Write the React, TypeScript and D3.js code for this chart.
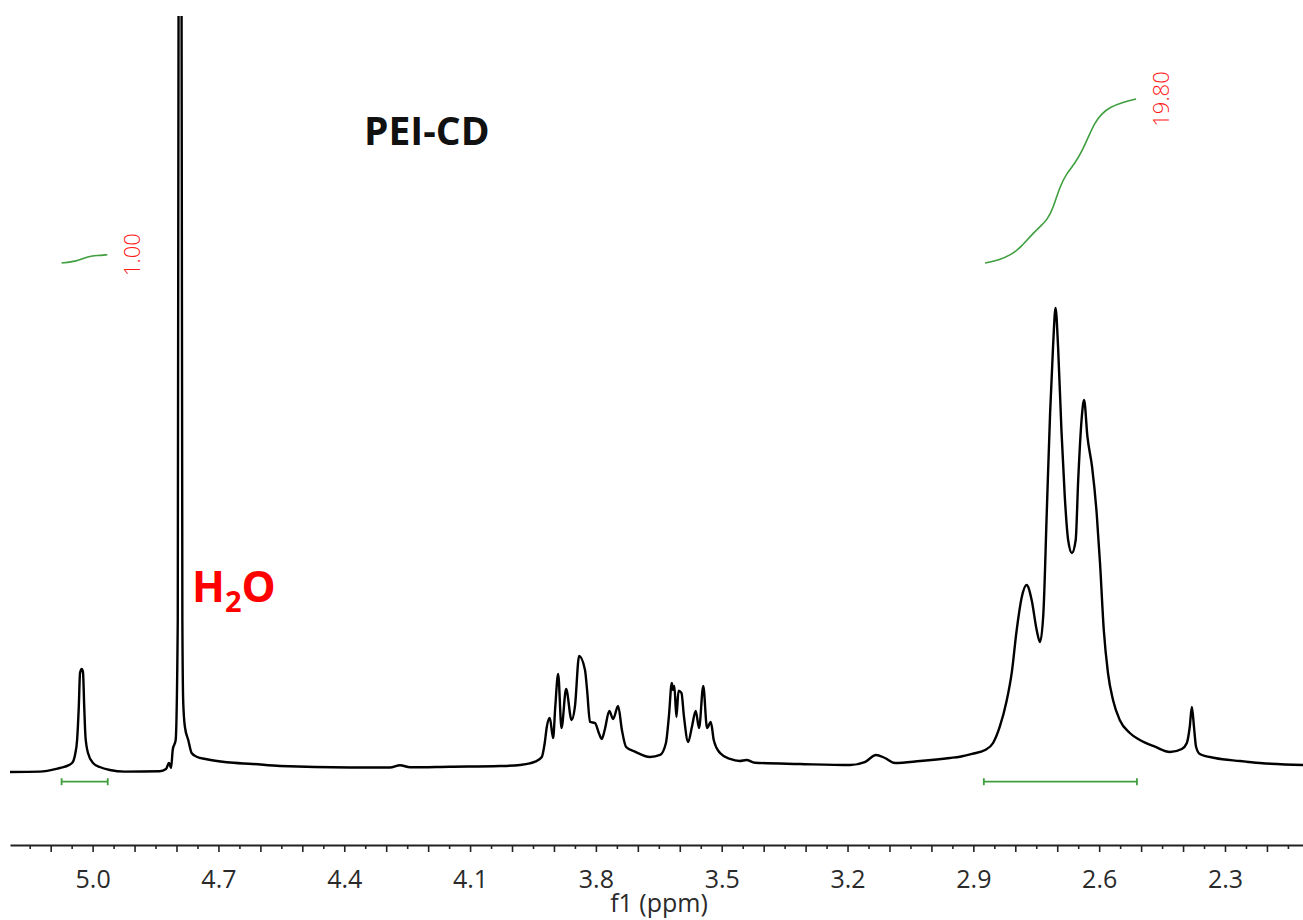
import React, { useRef, useEffect } from "react";
import * as d3 from "d3";

const W = 1303;
const H = 920;

// 1H trace: chemical shift (ppm) -> intensity (arb. units)
const shifts = [
  5.197, 5.126, 5.078, 5.066, 5.049, 5.042, 5.037, 5.033, 5.03, 5.026, 5.023, 5.02, 5.017, 5.011,
  4.999, 4.983, 4.959, 4.923, 4.84, 4.825, 4.818, 4.813, 4.809, 4.802, 4.797, 4.795, 4.791, 4.788,
  4.786, 4.784, 4.78, 4.772, 4.764, 4.752, 4.728, 4.68, 4.618, 4.553, 4.387, 4.291, 4.267, 4.243,
  4.148, 4.029, 3.981, 3.945, 3.929, 3.922, 3.917, 3.91, 3.902, 3.897, 3.89, 3.882, 3.871, 3.858,
  3.85, 3.84, 3.826, 3.821, 3.814, 3.802, 3.793, 3.786, 3.779, 3.768, 3.759, 3.747, 3.738, 3.728,
  3.707, 3.671, 3.647, 3.633, 3.626, 3.619, 3.616, 3.613, 3.608, 3.603, 3.596, 3.59, 3.58, 3.571,
  3.562, 3.554, 3.544, 3.535, 3.526, 3.519, 3.504, 3.48, 3.457, 3.441, 3.421, 3.314, 3.194, 3.159,
  3.132, 3.111, 3.087, 3.027, 2.956, 2.932, 2.903, 2.872, 2.853, 2.837, 2.821, 2.808, 2.797, 2.785,
  2.773, 2.761, 2.749, 2.741, 2.733, 2.725, 2.717, 2.71, 2.704, 2.698, 2.69, 2.682, 2.674, 2.665,
  2.656, 2.65, 2.642, 2.636, 2.628, 2.617, 2.606, 2.598, 2.589, 2.579, 2.567, 2.551, 2.527, 2.503,
  2.467, 2.431, 2.403, 2.391, 2.384, 2.379, 2.374, 2.369, 2.36, 2.324, 2.264, 2.217, 2.114,
];
const intensities = [
  0, 0.05, 0.53, 0.7, 1.19, 2.25, 4.23, 8.6, 13.08, 13.61, 13.21, 8.6, 4.62, 2.51,
  1.19, 0.66, 0.26, 0.05, 0.1, 0.4, 1.19, 0.53, 2.91, 4.23, 20, 105, 140, 105,
  20, 9.29, 5.98, 4.23, 2.51, 2.02, 1.68, 1.28, 1.06, 0.79, 0.6, 0.6, 0.9, 0.62,
  0.7, 0.79, 0.92, 1.36, 1.98, 3.83, 5.98, 7.13, 4.49, 8.5, 12.95, 5.81, 10.96, 6.87,
  8.63, 15.32, 13.47, 10.83, 6.61, 6.47, 5.15, 4.36, 5.55, 8.06, 7.0, 8.72, 5.55, 3.3,
  2.68, 1.98, 2.25, 3.83, 7.31, 11.76, 10.83, 11.36, 7.27, 10.74, 10.44, 7.31, 3.96, 5.98,
  8.06, 5.81, 11.36, 5.81, 6.61, 4.23, 2.51, 1.72, 1.45, 1.59, 1.23, 1.06, 0.92, 1.3,
  2.25, 1.85, 1.19, 1.45, 1.85, 2.02, 2.4, 2.91, 3.83, 5.98, 9.3, 13.3, 18.6, 23.0,
  24.7, 22.72, 18.76, 17.17, 21.0, 34.21, 47.42, 56.18, 61.29, 56.18, 45.18, 36.37, 30.65, 28.93,
  30.65, 38.57, 46.5, 49.14, 44.29, 40.33, 34.21, 27.61, 18.76, 13.08, 9.51, 6.87, 5.15, 4.23,
  3.34, 2.64, 3.04, 3.83, 5.98, 8.59, 5.98, 3.34, 2.38, 1.85, 1.45, 1.19, 0.92,
];

const tickLabels = [5.0, 4.7, 4.4, 4.1, 3.8, 3.5, 3.2, 2.9, 2.6, 2.3];

// running integrals (green) and their ranges
const integral1Ppm = [5.074, 5.038, 5.024, 5.01, 4.99, 4.965];
const integral1Val = [0, 0.22, 0.5, 0.78, 0.9, 1.0];
const integral2Ppm = [
  2.872, 2.837, 2.809, 2.785, 2.761, 2.741, 2.724, 2.71, 2.694, 2.678, 2.658, 2.642, 2.626, 2.61,
  2.594, 2.575, 2.543, 2.512,
];
const integral2Val = [
  0, 0.4, 1.0, 2.0, 3.4, 4.4, 5.2, 6.6, 9.2, 10.8, 12.0, 13.4, 15.2, 17.0, 18.0, 18.8, 19.4, 19.8,
];
const integralRanges = [
  [5.074, 4.964],
  [2.875, 2.51],
];
const integralLabels = ["1.00", "19.80"];

const FONT = "'Open Sans', 'Noto Sans', sans-serif";
const GREEN = "#3f9f3f";

export default function App() {
  const svgRef = useRef<SVGSVGElement>(null);

  useEffect(() => {
    const svg = d3.select(svgRef.current);
    svg.selectAll("*").remove();

    const x = d3.scaleLinear().domain([5.197, 2.114]).range([10, W]);
    const y = d3.scaleLinear().domain([0, 100]).range([772, 15]);
    const yInt = d3.scaleLinear().domain([0, 19.8]).range([263, 99]);

    svg
      .append("defs")
      .append("clipPath")
      .attr("id", "plotclip")
      .append("rect")
      .attr("x", 0)
      .attr("y", 16)
      .attr("width", W)
      .attr("height", 840);

    // spectrum
    const pts = shifts.map((s, i) => [s, intensities[i]] as [number, number]);
    const line = d3
      .line<[number, number]>()
      .x((d) => x(d[0]))
      .y((d) => y(d[1]))
      .curve(d3.curveMonotoneX);
    svg
      .append("path")
      .attr("clip-path", "url(#plotclip)")
      .attr("d", line(pts))
      .attr("fill", "none")
      .attr("stroke", "#000")
      .attr("stroke-width", 2.4)
      .attr("stroke-linejoin", "round");

    // integral curves
    const intLine = d3
      .line<[number, number]>()
      .x((d) => x(d[0]))
      .y((d) => yInt(d[1]))
      .curve(d3.curveBasis);
    const integrals = [
      integral1Ppm.map((p, i) => [p, integral1Val[i]] as [number, number]),
      integral2Ppm.map((p, i) => [p, integral2Val[i]] as [number, number]),
    ];
    integrals.forEach((curve, k) => {
      svg
        .append("path")
        .attr("d", intLine(curve))
        .attr("fill", "none")
        .attr("stroke", GREEN)
        .attr("stroke-width", 1.6);
      const last = curve[curve.length - 1];
      const lx = x(last[0]) + 24;
      const ly = yInt(last[1]);
      svg
        .append("text")
        .attr("transform", `translate(${lx},${ly}) rotate(-90)`)
        .attr("text-anchor", "middle")
        .attr("dominant-baseline", "central")
        .attr("font-family", FONT)
        .attr("font-weight", 300)
        .attr("font-size", 22)
        .attr("fill", "#ff1a1a")
        .text(integralLabels[k]);
    });

    // integral range bars
    integralRanges.forEach(([a, b]) => {
      const g = svg.append("g").attr("stroke", GREEN).attr("stroke-width", 1.8);
      const yb = 781.7;
      g.append("line").attr("x1", x(a)).attr("x2", x(b)).attr("y1", yb).attr("y2", yb);
      [a, b].forEach((p) =>
        g.append("line").attr("x1", x(p)).attr("x2", x(p)).attr("y1", yb - 3.5).attr("y2", yb + 3.5)
      );
    });

    // axis
    const majors = d3.range(51, 21, -1).map((v) => v / 10);
    const minors = d3.range(51.5, 21, -1).map((v) => v / 10);
    const axisY = 845;
    svg
      .append("g")
      .attr("transform", `translate(0,${axisY})`)
      .call(d3.axisBottom(x).tickValues(minors).tickSize(4).tickSizeOuter(0).tickFormat(() => ""))
      .call((g) => g.select(".domain").remove())
      .selectAll("line")
      .attr("stroke", "#222")
      .attr("stroke-width", 1.6);

    const ax = svg
      .append("g")
      .attr("transform", `translate(0,${axisY})`)
      .call(
        d3
          .axisBottom(x)
          .tickValues(majors)
          .tickSize(7)
          .tickSizeOuter(0)
          .tickPadding(18)
          .tickFormat((d) => {
            const v = +d;
            return tickLabels.some((t) => Math.abs(t - v) < 1e-6) ? v.toFixed(1) : "";
          })
      );
    ax.select(".domain").attr("stroke", "#222").attr("stroke-width", 2.2);
    ax.selectAll("line").attr("stroke", "#222").attr("stroke-width", 1.6);
    ax.selectAll("text")
      .attr("font-family", FONT)
      .attr("font-size", 25)
      .attr("fill", "#2a2a2a");

    svg
      .append("text")
      .attr("x", 659)
      .attr("y", 912)
      .attr("text-anchor", "middle")
      .attr("font-family", FONT)
      .attr("font-size", 25)
      .attr("fill", "#2a2a2a")
      .text("f1 (ppm)");

    // annotations
    svg
      .append("text")
      .attr("x", 364)
      .attr("y", 145)
      .attr("font-family", FONT)
      .attr("font-weight", 700)
      .attr("font-size", 39)
      .attr("fill", "#111")
      .text("PEI-CD");

    const h2o = svg
      .append("text")
      .attr("x", 192)
      .attr("y", 602)
      .attr("font-family", FONT)
      .attr("font-weight", 700)
      .attr("font-size", 43)
      .attr("fill", "#ff0000");
    h2o.append("tspan").text("H");
    h2o.append("tspan").attr("font-size", 29).attr("dy", 10).text("2");
    h2o.append("tspan").attr("dy", -10).text("O");
  }, []);

  return (
    <svg
      ref={svgRef}
      width={W}
      height={H}
      style={{ position: "absolute", left: 0, top: 0, background: "#fff" }}
    />
  );
}
